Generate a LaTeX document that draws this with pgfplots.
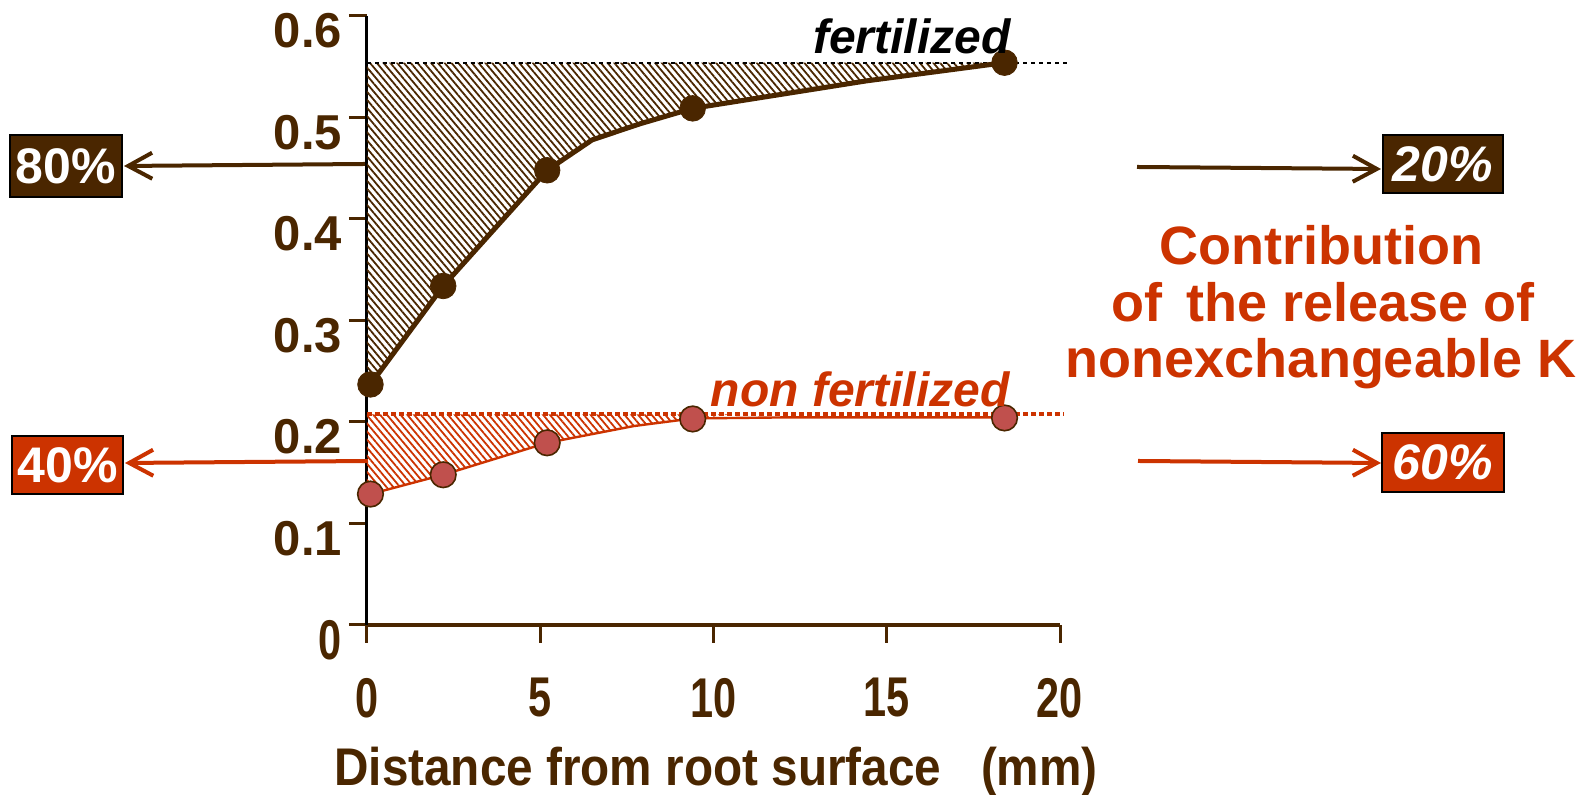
\documentclass[border=0pt]{standalone}
\usepackage{fontspec}
\setmainfont{Liberation Sans}
\newfontfamily\narrowfont[FakeStretch=0.74]{Liberation Sans}
\newfontfamily\titlefont[FakeStretch=0.9]{Liberation Sans}
\usepackage{pgfplots}
\pgfplotsset{compat=1.18}
\usetikzlibrary{patterns.meta,arrows.meta}
\definecolor{kbrown}{RGB}{74,38,0}
\definecolor{kred}{RGB}{204,51,0}
\definecolor{kpink}{RGB}{192,80,77}
\begin{document}
\begin{tikzpicture}
\begin{axis}[
  at={(0,0)}, anchor=south west,
  scale only axis, width=346.5pt, height=304.5pt,
  xmin=0, xmax=20, ymin=0, ymax=0.6,
  axis lines*=left,
  axis line style={-},
  x axis line style={kbrown, line width=2pt},
  y axis line style={black, line width=1.5pt},
  xtick={0,5,10,15,20},
  xticklabels={0,5,10,15,20},
  ytick={0,0.1,0.2,0.3,0.4,0.5,0.6},
  yticklabels={{\narrowfont\fontsize{28}{28}\selectfont 0},0.1,0.2,0.3,0.4,0.5,0.6},
  tick align=outside,
  major tick length=9pt,
  tick style={kbrown, line width=1.5pt},
  xticklabel style={font=\narrowfont\fontsize{28}{28}\selectfont\bfseries, text=kbrown, yshift=-14pt},
  yticklabel style={font=\fontsize{24.5}{24.5}\selectfont\bfseries, text=kbrown, yshift=-7.5pt},
  clip=false,
]
% hatched areas
\addplot[draw=none, pattern={Lines[angle=-50,distance=2.6pt,line width=0.9pt]}, pattern color=kbrown, forget plot]
  coordinates {(0,0.554) (0,0.237) (0.1,0.237) (2.2,0.334) (5.2,0.448) (6.5,0.478) (7.9,0.494) (9.4,0.509) (14.4,0.536) (18.4,0.554)};
\addplot[draw=none, pattern={Lines[angle=-50,distance=2.6pt,line width=0.9pt]}, pattern color=kred, forget plot]
  coordinates {(0,0.2075) (0,0.129) (0.1,0.129) (2.2,0.148) (5.2,0.1795) (7.7,0.196) (9.4,0.2026) (10.5,0.2075)};
% reference lines
\addplot[black, line width=1pt, dash pattern=on 2pt off 2pt, forget plot] coordinates {(0,0.554) (20.3,0.554)};
\addplot[kred, line width=2pt, dash pattern=on 2.5pt off 1.5pt, forget plot] coordinates {(0,0.2075) (20.1,0.2075)};
% fertilized
\addplot[kbrown, line width=2.5pt, forget plot]
  coordinates {(0.1,0.237) (2.2,0.334) (5.2,0.448) (6.5,0.478) (7.9,0.494) (9.4,0.509) (14.4,0.536) (18.4,0.554)};
\addplot[only marks, mark=*, mark size=6.4pt, mark options={fill=kbrown, draw=kbrown}, forget plot]
  coordinates {(0.1,0.237) (2.2,0.334) (5.2,0.448) (9.4,0.509) (18.4,0.554)};
% non fertilized
\addplot[kred, line width=1.2pt, forget plot]
  coordinates {(0.1,0.129) (2.2,0.148) (5.2,0.1795) (7.7,0.196) (9.4,0.2035) (12,0.2045) (18.4,0.2045)};
\addplot[only marks, mark=*, mark size=6.4pt, mark options={fill=kpink, draw=kbrown, line width=0.8pt}, forget plot]
  coordinates {(0.1,0.129) (2.2,0.148) (5.2,0.1795) (9.4,0.203) (18.4,0.204)};
\end{axis}
\begin{scope}[x=0.5pt, y=-0.5pt, shift={(-367,-625)}]
  % series labels
  \node[anchor=base east, inner sep=0pt, font=\fontsize{24}{24}\selectfont\bfseries\itshape] at (1011,54) {fertilized};
  \node[anchor=base east, inner sep=0pt, text=kred, font=\fontsize{24}{24}\selectfont\bfseries\itshape] at (1010,407) {non fertilized};
  % axis title
  \node[anchor=base, inner sep=0pt, text=kbrown, font=\titlefont\fontsize{26.5}{26.5}\selectfont\bfseries] at (716,786) {Distance from root surface\ \ \ (mm)};
  % arrows
  \draw[kbrown, line width=2pt, -{Straight Barb[length=12pt,width=13pt]}] (365,164) -- (124,166);
  \draw[kred, line width=2pt, -{Straight Barb[length=12pt,width=13pt]}] (368,461) -- (125,463);
  \draw[kbrown, line width=2pt, -{Straight Barb[length=12pt,width=13pt]}] (1137,167) -- (1381,169);
  \draw[kred, line width=2pt, -{Straight Barb[length=12pt,width=13pt]}] (1138,461) -- (1381,463);
  % boxes
  \node[fill=kbrown, draw=black, line width=1pt, minimum width=56pt, minimum height=31pt, inner sep=0pt, text=white, font=\fontsize{25}{25}\selectfont\bfseries] at (66,166) {80\%};
  \node[fill=kred, draw=black, line width=1pt, minimum width=55.5pt, minimum height=29pt, inner sep=0pt, text=white, font=\fontsize{25}{25}\selectfont\bfseries] at (67.5,465) {40\%};
  \node[fill=kbrown, draw=black, line width=1pt, minimum width=60pt, minimum height=29pt, inner sep=0pt, text=white, font=\fontsize{25}{25}\selectfont\bfseries\itshape] at (1442.5,164) {20\%};
  \node[fill=kred, draw=black, line width=1pt, minimum width=61pt, minimum height=29.5pt, inner sep=0pt, text=white, font=\fontsize{25}{25}\selectfont\bfseries\itshape] at (1443,462.5) {60\%};
  % contribution text
  \node[anchor=base, inner sep=0pt, text=kred, font=\fontsize{27}{27}\selectfont\bfseries] at (1321,265) {Contribution};
  \node[anchor=base, inner sep=0pt, text=kred, font=\fontsize{27}{27}\selectfont\bfseries] at (1323,322) {of\hspace{0.45em}the release of};
  \node[anchor=base, inner sep=0pt, text=kred, font=\fontsize{27}{27}\selectfont\bfseries] at (1321,378) {nonexchangeable K};
  % bounding box
  \pgfresetboundingbox
  \path[use as bounding box] (0,0) rectangle (1586,795);
\end{scope}
\end{tikzpicture}
\end{document}
